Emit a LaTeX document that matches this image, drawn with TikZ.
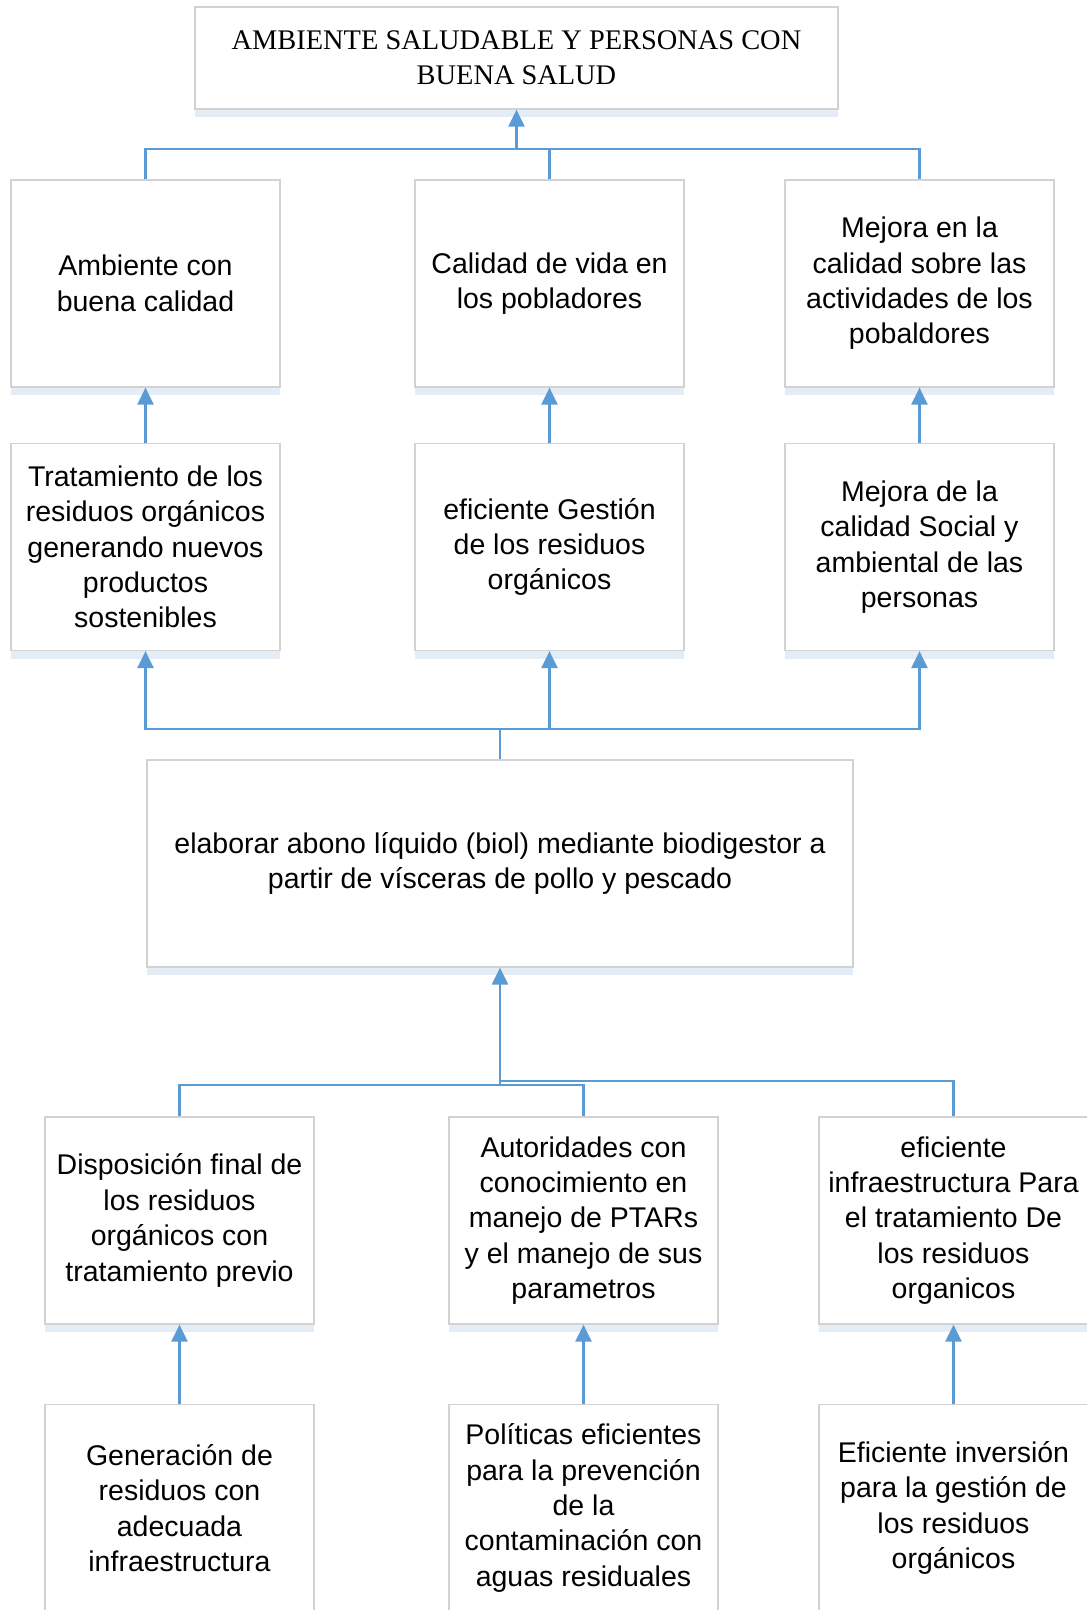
\documentclass[tikz,border=0pt]{standalone}
\usepackage{fontspec}
\setmainfont{Liberation Sans}
\newfontfamily\timesfont{Liberation Serif}
\usetikzlibrary{positioning, calc, shapes, arrows.meta, shadows}
\definecolor{linkblue}{HTML}{5B9BD5}
\definecolor{boxgray}{HTML}{D2D2D2}
\definecolor{shadowblue}{HTML}{E2EAF4}

\begin{document}
\begin{tikzpicture}[x=1pt, y=-1pt,
    box/.style={draw=boxgray, line width=1.2pt, fill=white, minimum width=269pt, minimum height=207pt,
        inner sep=0pt, align=center, font=\fontsize{28.5}{35.4}\selectfont,
        drop shadow={shadow xshift=0pt, shadow yshift=-8pt, fill=shadowblue, opacity=0.9}},
    link/.style={draw=linkblue, line width=2.5pt},
    arr/.style={link, -{Triangle[width=16pt, length=17pt]}}]
    \useasboundingbox[fill=white] (0,0) rectangle (1087,1610);

    \node[box, minimum width=643pt, minimum height=102pt, font=\timesfont\fontsize{28.4}{35}\selectfont] (meta) at (516.5,58)
        {AMBIENTE SALUDABLE Y PERSONAS CON\\BUENA SALUD};

    \node[box] (amb) at (145.5,283.5) {Ambiente con\\buena calidad};
    \node[box] (cal) at (549.5,283.5) {Calidad de vida en\\los pobladores};
    \node[box] (mej) at (919.5,283.5) {Mejora en la\\calidad sobre las\\actividades de los\\pobaldores};

    \node[box] (trat) at (145.5,547) {Tratamiento de los\\residuos orgánicos\\generando nuevos\\productos\\sostenibles};
    \node[box] (gest) at (549.5,547) {eficiente Gestión\\de los residuos\\orgánicos};
    \node[box] (mejs) at (919.5,547) {Mejora de la\\calidad Social y\\ambiental de las\\personas};

    \node[box, minimum width=706pt] (elab) at (500,863.5)
        {elaborar abono líquido (biol) mediante biodigestor a\\partir de vísceras de pollo y pescado};

    \node[box] (disp) at (179.5,1220.5) {Disposición final de\\los residuos\\orgánicos con\\tratamiento previo};
    \node[box] (auto) at (583.5,1220.5) {Autoridades con\\conocimiento en\\manejo de PTARs\\y el manejo de sus\\parametros};
    \node[box] (infra) at (953.5,1220.5) {eficiente\\infraestructura Para\\el tratamiento De\\los residuos\\organicos};

    \node[box] (gen) at (179.5,1508) {Generación de\\residuos con\\adecuada\\infraestructura};
    \node[box] (pol) at (583.5,1508) {Políticas eficientes\\para la prevención\\de la\\contaminación con\\aguas residuales};
    \node[box] (inv) at (953.5,1508) {Eficiente inversión\\para la gestión de\\los residuos\\orgánicos};

    \coordinate (jtop) at (516.5,149);
    \draw[link] (amb.north) |- (jtop);
    \draw[link] (cal.north) |- (jtop);
    \draw[link] (mej.north) |- (jtop);
    \draw[arr] (jtop) -- (meta.south);

    \draw[arr] (trat.north) -- (amb.south);
    \draw[arr] (gest.north) -- (cal.south);
    \draw[arr] (mejs.north) -- (mej.south);

    \coordinate (jmid) at (500,729);
    \draw[arr] (elab.north) -- (jmid) -| (trat.south);
    \draw[arr] (elab.north) -- (jmid) -| (gest.south);
    \draw[arr] (elab.north) -- (jmid) -| (mejs.south);

    \coordinate (jlowa) at (500,1085);
    \coordinate (jlowb) at (500,1081);
    \draw[link] (disp.north) |- (jlowa);
    \draw[link] (auto.north) |- (jlowa);
    \draw[link] (infra.north) |- (jlowb);
    \draw[arr] (jlowa) -- (elab.south);

    \draw[arr] (gen.north) -- (disp.south);
    \draw[arr] (pol.north) -- (auto.south);
    \draw[arr] (inv.north) -- (infra.south);
\end{tikzpicture}
\end{document}
